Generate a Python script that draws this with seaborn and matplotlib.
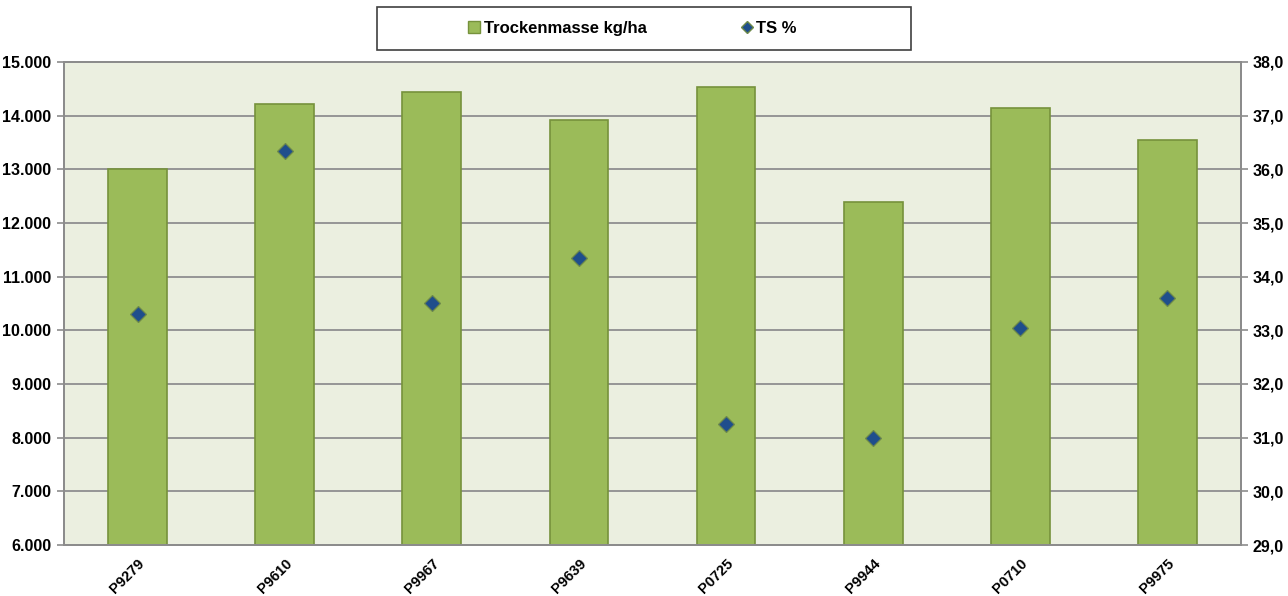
import matplotlib
matplotlib.use("Agg")
import matplotlib.pyplot as plt
import seaborn as sns
import pandas as pd
from matplotlib.lines import Line2D
from matplotlib.patches import Rectangle
from matplotlib.ticker import FuncFormatter, MultipleLocator

sorten = ["P9279", "P9610", "P9967", "P9639", "P0725", "P9944", "P0710", "P9975"]
trockenmasse = [13000, 14220, 14450, 13910, 14530, 12400, 14140, 13550]
ts_prozent = [33.3, 36.35, 33.5, 34.35, 31.25, 31.0, 33.05, 33.6]

df = pd.DataFrame({"Sorte": sorten, "TM": trockenmasse, "TS": ts_prozent})

sns.set_style("white")
plt.rcParams["font.family"] = ["Liberation Sans", "DejaVu Sans"]
plt.rcParams["font.weight"] = "bold"
plt.rcParams["text.color"] = "black"
plt.rcParams["xtick.labelcolor"] = "black"
plt.rcParams["ytick.labelcolor"] = "black"

fig = plt.figure(figsize=(12.88, 5.96), dpi=100)
ax = fig.add_axes([64 / 1288, 1 - 545 / 596, (1241 - 64) / 1288, (545 - 62) / 596])
ax.set_facecolor("#EBEFE0")

sns.barplot(data=df, x="Sorte", y="TM", ax=ax, color="#9BBB59", width=0.4,
            edgecolor="#76923C", linewidth=1.2, saturation=1, zorder=2)
ax.set_ylim(6000, 15000)
ax.set_xlim(-0.5, 7.5)
ax.yaxis.set_major_locator(MultipleLocator(1000))
ax.yaxis.set_major_formatter(FuncFormatter(lambda v, p: f"{int(v):,}".replace(",", ".")))
ax.grid(axis="y", color="#959595", linewidth=1.4, zorder=0)
ax.set_axisbelow(True)
ax.set_xlabel("")
ax.set_ylabel("")

ax2 = ax.twinx()
sns.pointplot(data=df, x="Sorte", y="TS", ax=ax2, linestyle="none", markers="D",
              color="#1F4E8C", markersize=8.5, markeredgecolor="#6E8A4A",
              markeredgewidth=0.9, zorder=5)
ax2.set_ylim(29, 38)
ax2.set_xlim(-0.5, 7.5)
ax2.yaxis.set_major_locator(MultipleLocator(1))
ax2.yaxis.set_major_formatter(FuncFormatter(lambda v, p: f"{v:.1f}".replace(".", ",")))
ax2.set_ylabel("")
ax2.set_xlabel("")

for a in (ax, ax2):
    for s in a.spines.values():
        s.set_color("#8C8C8C")
        s.set_linewidth(1.4)

ax.set_xticks(range(len(sorten)))
ax.set_xticklabels(sorten, rotation=45, ha="right", rotation_mode="anchor",
                   fontsize=10.5, fontweight="bold", color="black")
ax.set_xticks([i - 0.5 for i in range(len(sorten) + 1)], minor=True)
ax.tick_params(axis="x", which="major", length=0, pad=8)
ax.tick_params(axis="x", which="minor", length=5, color="#8C8C8C", width=1.2)
ax.tick_params(axis="y", length=5, color="#8C8C8C", width=1.2, labelsize=11.5, pad=4,
               labelcolor="black")
ax2.tick_params(axis="y", length=5, color="#8C8C8C", width=1.2, labelsize=11.5, pad=3,
                labelcolor="black")
for lab in ax.get_yticklabels() + ax2.get_yticklabels():
    lab.set_fontweight("bold")

fig.patches.append(Rectangle((377 / 1288, 1 - 50 / 596), (911 - 377) / 1288, 43 / 596,
                             transform=fig.transFigure, facecolor="white",
                             edgecolor="#404040", linewidth=1.2))
handles = [
    Line2D([], [], linestyle="none", marker="s", markersize=8, color="#9BBB59",
           markeredgecolor="#76923C"),
    Line2D([], [], linestyle="none", marker="D", markersize=6, color="#1F4E8C",
           markeredgecolor="#6E8A4A"),
]
fig.legend(handles, ["Trockenmasse kg/ha", "TS %"], loc="center",
           bbox_to_anchor=(632 / 1288, 1 - 28.5 / 596), ncol=2, frameon=False,
           handlelength=0.8, handletextpad=0.15, columnspacing=5.6,
           labelcolor="black", prop={"weight": "bold", "size": 12})

fig.savefig("out.png", dpi=100)
